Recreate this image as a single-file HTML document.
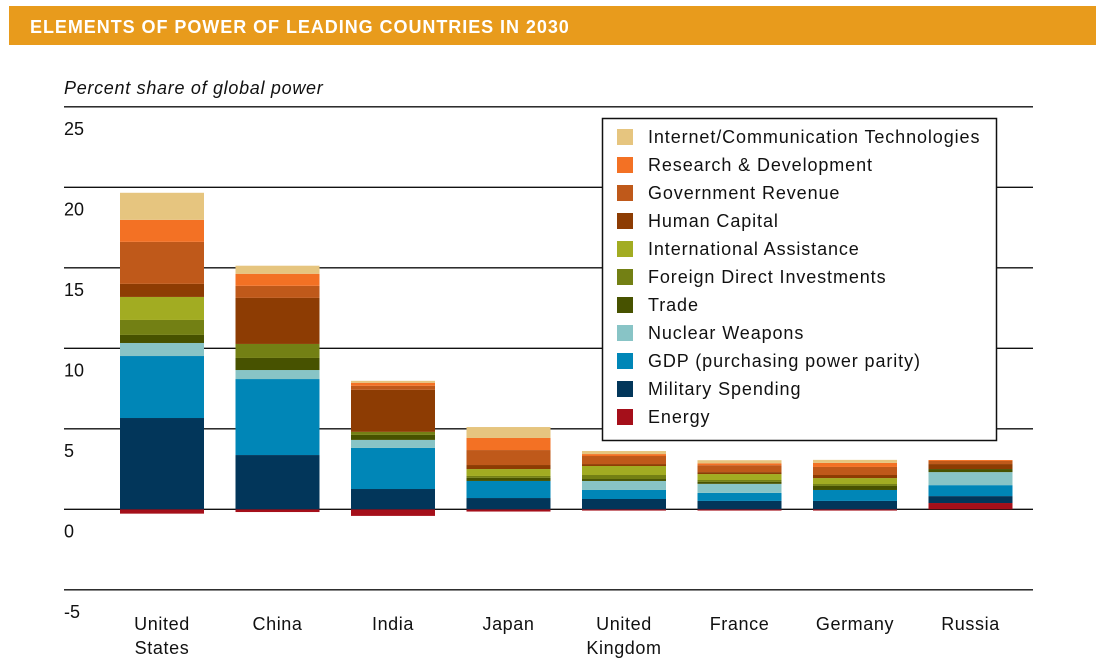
<!DOCTYPE html>
<html><head><meta charset="utf-8"><style>
body{margin:0;background:#fff;width:1096px;height:658px;overflow:hidden;font-family:"Liberation Sans",sans-serif}
</style></head><body>
<svg id="chart" width="1096" height="658" xmlns="http://www.w3.org/2000/svg">
<rect x="9" y="6" width="1087" height="39" fill="#E89B1C"/>
<text x="30" y="33" fill="#fff" font-size="18" font-weight="bold" letter-spacing="0.95">ELEMENTS OF POWER OF LEADING COUNTRIES IN 2030</text>
<text x="64" y="94" font-size="18" font-style="italic" fill="#111" letter-spacing="0.7">Percent share of global power</text>
<g id="grid"></g><g id="bars"></g><g id="xl"></g>
<g><rect x="602.5" y="118.5" width="394" height="322" fill="#fff" stroke="#111" stroke-width="1.5"/><g id="leg"></g></g>
</svg>
<script>
const countries=[["United","States"],["China"],["India"],["Japan"],["United","Kingdom"],["France"],["Germany"],["Russia"]];
const seriesNames=["Energy","Military Spending","GDP (purchasing power parity)","Nuclear Weapons","Trade","Foreign Direct Investments","International Assistance","Human Capital","Government Revenue","Research & Development","Internet/Communication Technologies"];
const colors=["#A50F1A","#02365A","#0086B7","#88C4C6","#475200","#738014","#A2AC22","#8D3C03","#BF591A","#F37124","#E6C57F"];
const energy=[-0.27,-0.17,-0.41,-0.14,-0.08,-0.08,-0.08,0.39];
const military=[5.67,3.37,1.26,0.7,0.64,0.52,0.52,0.43];
const gdp=[3.85,4.72,2.55,1.06,0.56,0.5,0.68,0.68];
const nuclear=[0.81,0.56,0.5,0,0.56,0.56,0,0.81];
const trade=[0.5,0.75,0.31,0.19,0.12,0.12,0.25,0.19];
const fdi=[0.93,0.87,0.19,0.12,0.25,0.12,0.12,0];
const assistance=[1.43,0,0,0.43,0.56,0.37,0.37,0];
const humanCapital=[0.81,2.86,2.61,0.25,0.12,0.12,0.19,0.31];
const govRevenue=[2.61,0.75,0.25,0.93,0.5,0.43,0.5,0.19];
const research=[1.37,0.75,0.19,0.75,0.12,0.12,0.25,0.06];
const ict=[1.68,0.5,0.12,0.68,0.19,0.19,0.19,0];
const ticks=[25,20,15,10,5,0,-5];
const series=[energy,military,gdp,nuclear,trade,fdi,assistance,humanCapital,govRevenue,research,ict];
const NS="http://www.w3.org/2000/svg";
const y=v=>509.3-v*16.1;
const xc=i=>162+i*115.5;
function mk(t,a,p){const e=document.createElementNS(NS,t);for(const k in a)e.setAttribute(k,a[k]);p.appendChild(e);return e;}
const grid=document.getElementById('grid');
ticks.forEach(t=>{
 const l=mk('line',{x1:64,x2:1033,y1:y(t),y2:y(t),stroke:'#111','stroke-width':1.3},grid);
 
 
 const tx=mk('text',{x:64,y:y(t)+28,'font-size':18,fill:'#111'},grid);tx.textContent=t;
 
 
});
const bars=document.getElementById('bars');
countries.forEach((c,i)=>{
 let pos=0,neg=0;
 series.forEach((s,k)=>{
  const v=s[i];if(!v)return;
  let y0,y1;
  if(v>0){y0=pos;y1=pos+v;pos=y1;}else{y0=neg+v;y1=neg;neg=y0;}
  const r=mk('rect',{x:xc(i)-42,width:84,y:y(y1),height:y(y0)-y(y1),fill:colors[k]},bars);
  
  
 });
 const t=mk('text',{x:xc(i),y:630,'font-size':18,'text-anchor':'middle',fill:'#111','letter-spacing':0.6},document.getElementById('xl'));
 
 
 c.forEach((w,j)=>{const ts=mk('tspan',{x:xc(i),dy:j?24:0},t);ts.textContent=w;});
});
const leg=document.getElementById('leg');
for(let k=10;k>=0;k--){
 const r=10-k, yy=137+r*28;
 const sw=mk('rect',{x:617,y:yy-8,width:16,height:16,fill:colors[k]},leg);
 
 
 const t=mk('text',{x:648,y:yy+6,'font-size':18,fill:'#111','letter-spacing':0.9},leg);t.textContent=seriesNames[k];
 
 
}
</script>
</body></html>
